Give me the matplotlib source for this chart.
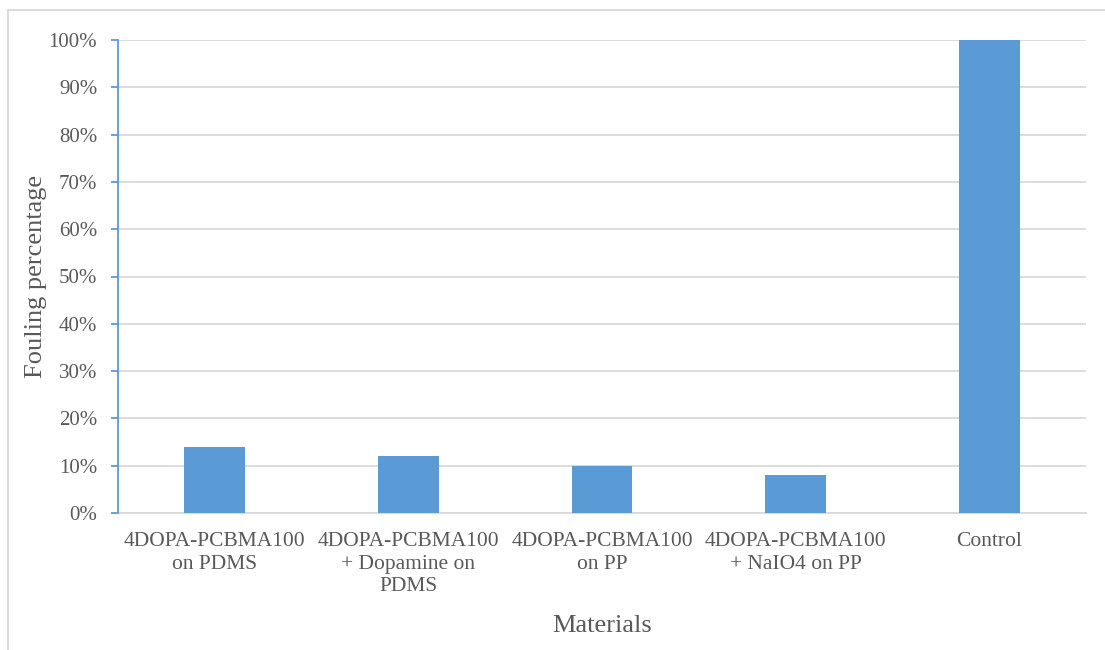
import matplotlib
matplotlib.use("Agg")
import matplotlib.pyplot as plt
from matplotlib.patches import Rectangle
from matplotlib.ticker import PercentFormatter, MultipleLocator

categories = [
    "4DOPA-PCBMA100\non PDMS",
    "4DOPA-PCBMA100\n+ Dopamine on\nPDMS",
    "4DOPA-PCBMA100\non PP",
    "4DOPA-PCBMA100\n+ NaIO4 on PP",
    "Control",
]
fouling = [14, 12, 10, 8, 100]

plt.rcParams["font.family"] = ["Liberation Serif", "DejaVu Serif"]

W, H = 1105, 650
fig = plt.figure(figsize=(W / 100, H / 100), dpi=100)
ax = fig.add_axes([118 / W, 1 - 513 / H, (1086 - 118) / W, (513 - 40) / H])

bar_color = "#5B9BD5"
grid_color = "#D9D9D9"
text_color = "#595959"

x = range(len(categories))
ax.bar(x, fouling, width=0.315, color=bar_color, zorder=3)

ax.set_xlim(-0.5, len(categories) - 0.5)
ax.set_ylim(0, 100)
ax.yaxis.set_major_locator(MultipleLocator(10))
ax.yaxis.set_major_formatter(PercentFormatter(decimals=0))
ax.grid(axis="y", color=grid_color, linewidth=1.3, zorder=0)

for side in ("top", "right"):
    ax.spines[side].set_visible(False)
ax.spines["bottom"].set_color(grid_color)
ax.spines["bottom"].set_linewidth(1.3)
ax.spines["left"].set_color(bar_color)
ax.spines["left"].set_linewidth(1.3)
ax.spines["left"].set_zorder(4)

ax.set_xticks(list(x))
ax.set_xticklabels(categories, linespacing=1.25)
ax.tick_params(axis="x", length=0, pad=14, labelsize=15.5, labelcolor=text_color)
ax.tick_params(axis="y", direction="out", length=5, width=1.3, color=bar_color,
               pad=10, labelsize=15, labelcolor=text_color)

ax.set_ylabel("Fouling percentage", fontsize=19, color=text_color, labelpad=1)
ax.set_xlabel("Materials", fontsize=19, color=text_color, labelpad=13)

# chart-area border
fig.patches.append(Rectangle((8 / W, -0.05), 1.1, 1 - 10 / H + 0.05,
                             transform=fig.transFigure, fill=False,
                             edgecolor=grid_color, linewidth=1.3))

fig.savefig("out.png", dpi=100)
